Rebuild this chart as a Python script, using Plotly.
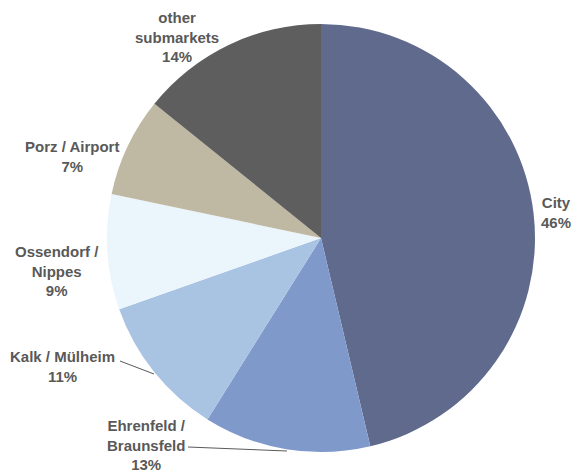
import plotly.graph_objects as go

# Data
labels = ["City", "Ehrenfeld /<br>Braunsfeld", "Kalk / Mülheim", "Ossendorf /<br>Nippes", "Porz / Airport", "other<br>submarkets"]
shares = [46.3, 12.6, 10.7, 8.7, 7.5, 14.2]
pct_labels = ["46%", "13%", "11%", "9%", "7%", "14%"]
colors = ["#5F6A8D", "#7F99CB", "#A9C4E2", "#EBF5FC", "#BFB8A3", "#5E5E5E"]

W, H = 575, 472

# label block centres (pixel layout)
label_pos = [(556, 212), (146, 445), (62, 366), (57, 271), (72, 156), (177, 37)]

fig = go.Figure(go.Pie(
    labels=labels,
    values=shares,
    sort=False,
    direction="clockwise",
    rotation=0,
    textinfo="none",
    hoverinfo="label+percent",
    marker=dict(colors=colors, line=dict(color="white", width=0)),
    domain=dict(x=[107 / W, 535 / W], y=[1 - 452 / H, 1 - 24 / H]),
    showlegend=False,
))

annotations = []
for lab, pl, (px, py) in zip(labels, pct_labels, label_pos):
    annotations.append(dict(
        text=f"{lab}<br>{pl}",
        x=px / W, y=1 - py / H, xref="paper", yref="paper",
        xanchor="center", yanchor="middle", showarrow=False,
        align="center",
        font=dict(family="Liberation Sans, Arial, sans-serif", size=15, color="#595959", weight="bold"),
    ))

leaders = [((120, 361), (154, 374)), ((188, 447), (287, 451))]
shapes = []
for (x0, y0), (x1, y1) in leaders:
    shapes.append(dict(type="line", xref="paper", yref="paper",
                       x0=x0 / W, y0=1 - y0 / H, x1=x1 / W, y1=1 - y1 / H,
                       line=dict(color="#595959", width=1)))

fig.update_layout(
    width=W, height=H,
    margin=dict(l=0, r=0, t=0, b=0),
    paper_bgcolor="white", plot_bgcolor="white",
    annotations=annotations, shapes=shapes,
)

fig.write_html("out.html")
